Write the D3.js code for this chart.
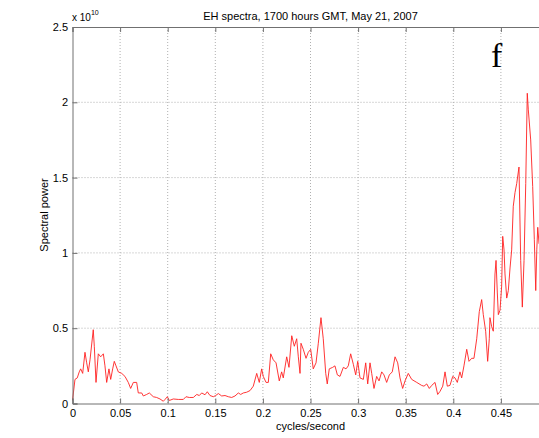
<!DOCTYPE html>
<html>
<head>
<meta charset="utf-8">
<script src="https://cdn.jsdelivr.net/npm/d3@7"></script>
<style>
  body { margin: 0; background: #fff; }
  svg { display: block; font-family: "Liberation Sans", Arial, sans-serif; }
</style>
</head>
<body>
<div id="chart"></div>
<script>
// frequency (cycles/second) and spectral power (x 10^10)
const freq = [
  0.0000, 0.0026, 0.0050, 0.0071, 0.0086, 0.0107, 0.0131, 0.0149, 0.0166, 0.0184,
  0.0218, 0.0229, 0.0247, 0.0271, 0.0296, 0.0324, 0.0341, 0.0359, 0.0383, 0.0401,
  0.0422, 0.0439, 0.0457, 0.0481, 0.0517, 0.0551, 0.0586, 0.0611, 0.0639, 0.0674,
  0.0691, 0.0727, 0.0744, 0.0779, 0.0807, 0.0849, 0.0884, 0.0919, 0.0954, 0.0972,
  0.0996, 0.1017, 0.1059, 0.1111, 0.1164, 0.1192, 0.1227, 0.1269, 0.1305, 0.1332,
  0.1357, 0.1392, 0.1416, 0.1444, 0.1479, 0.1504, 0.1532, 0.1567, 0.1602, 0.1637,
  0.1672, 0.1707, 0.1742, 0.1767, 0.1794, 0.1830, 0.1865, 0.1899, 0.1935, 0.1962,
  0.1987, 0.2004, 0.2033, 0.2057, 0.2082, 0.2109, 0.2138, 0.2172, 0.2197, 0.2214,
  0.2250, 0.2274, 0.2303, 0.2330, 0.2355, 0.2372, 0.2390, 0.2400, 0.2424, 0.2453,
  0.2477, 0.2502, 0.2529, 0.2558, 0.2582, 0.2610, 0.2634, 0.2660, 0.2676, 0.2697,
  0.2733, 0.2757, 0.2782, 0.2810, 0.2845, 0.2873, 0.2897, 0.2922, 0.2950, 0.2975,
  0.2996, 0.3020, 0.3055, 0.3080, 0.3101, 0.3125, 0.3143, 0.3167, 0.3195, 0.3220,
  0.3248, 0.3272, 0.3300, 0.3328, 0.3359, 0.3388, 0.3416, 0.3440, 0.3468, 0.3493,
  0.3527, 0.3563, 0.3616, 0.3668, 0.3692, 0.3721, 0.3748, 0.3773, 0.3808, 0.3836,
  0.3860, 0.3889, 0.3913, 0.3937, 0.3965, 0.3994, 0.4018, 0.4042, 0.4070, 0.4088,
  0.4112, 0.4141, 0.4165, 0.4193, 0.4217, 0.4246, 0.4273, 0.4298, 0.4315, 0.4340,
  0.4361, 0.4378, 0.4385, 0.4403, 0.4420, 0.4438, 0.4449, 0.4462, 0.4473, 0.4491,
  0.4508, 0.4519, 0.4533, 0.4543, 0.4561, 0.4578, 0.4596, 0.4613, 0.4630, 0.4648,
  0.4666, 0.4690, 0.4708, 0.4725, 0.4743, 0.4761, 0.4777, 0.4788, 0.4813, 0.4834,
  0.4851, 0.4866, 0.4877, 0.4887, 0.4901
];
const power = [
  0.02, 0.16, 0.17, 0.21, 0.23, 0.20, 0.34, 0.27, 0.21, 0.29,
  0.49, 0.38, 0.14, 0.33, 0.31, 0.33, 0.25, 0.14, 0.23, 0.16,
  0.23, 0.28, 0.25, 0.21, 0.20, 0.18, 0.14, 0.10, 0.14, 0.14,
  0.07, 0.07, 0.05, 0.06, 0.07, 0.045, 0.04, 0.03, 0.015, 0.027,
  0.045, 0.02, 0.03, 0.027, 0.027, 0.045, 0.04, 0.04, 0.06, 0.053,
  0.07, 0.058, 0.078, 0.053, 0.045, 0.053, 0.066, 0.05, 0.053, 0.045,
  0.04, 0.05, 0.07, 0.06, 0.07, 0.075, 0.086, 0.115, 0.20, 0.14,
  0.23, 0.18, 0.14, 0.14, 0.33, 0.29, 0.27, 0.15, 0.21, 0.17,
  0.31, 0.24, 0.45, 0.38, 0.43, 0.31, 0.20, 0.40, 0.36, 0.30,
  0.34, 0.36, 0.23, 0.27, 0.40, 0.57, 0.43, 0.20, 0.13, 0.23,
  0.24, 0.25, 0.19, 0.18, 0.24, 0.23, 0.25, 0.33, 0.26, 0.19,
  0.28, 0.17, 0.16, 0.27, 0.13, 0.27, 0.20, 0.10, 0.18, 0.15,
  0.21, 0.19, 0.14, 0.19, 0.21, 0.31, 0.27, 0.17, 0.10, 0.15,
  0.20, 0.16, 0.14, 0.12, 0.115, 0.13, 0.10, 0.12, 0.14, 0.06,
  0.08, 0.115, 0.21, 0.115, 0.12, 0.18, 0.17, 0.14, 0.21, 0.17,
  0.25, 0.36, 0.28, 0.30, 0.30, 0.43, 0.61, 0.69, 0.59, 0.48,
  0.28, 0.43, 0.57, 0.51, 0.48, 0.86, 0.95, 0.74, 0.59, 0.62,
  0.78, 1.11, 1.02, 0.86, 0.70, 0.75, 0.90, 1.02, 1.31, 1.40,
  1.46, 1.57, 0.95, 0.64, 0.95, 1.46, 2.06, 1.95, 1.75, 1.44,
  1.09, 0.75, 1.02, 1.17, 1.06
];
const xTicks = [0, 0.05, 0.1, 0.15, 0.2, 0.25, 0.3, 0.35, 0.4, 0.45];
const yTicks = [0, 0.5, 1, 1.5, 2, 2.5];

const margin = {top: 27, left: 72.5},
  width = 476, height = 376.5;

const svg = d3.select("#chart")
  .append("svg")
  .attr("width", 539)
  .attr("height", 438);

const g = svg.append("g")
  .attr("transform", `translate(${margin.left}, ${margin.top})`);

const x = d3.scaleLinear().domain([0, 0.5]).range([0, width]);
const y = d3.scaleLinear().domain([0, 2.5]).range([height, 0]);

// dotted grid
g.append("g")
  .selectAll("line")
  .data(xTicks.slice(1))
  .join("line")
    .attr("x1", d => x(d)).attr("x2", d => x(d))
    .attr("y1", 0).attr("y2", height)
    .attr("stroke", "#b0b0b0")
    .attr("stroke-dasharray", "1,2");
g.append("g")
  .selectAll("line")
  .data(yTicks.slice(1, -1))
  .join("line")
    .attr("x1", 0).attr("x2", width)
    .attr("y1", d => y(d)).attr("y2", d => y(d))
    .attr("stroke", "#b0b0b0")
    .attr("stroke-dasharray", "1,2");

// the spectrum
g.append("path")
  .datum(freq.map((f, i) => ({f: f, p: power[i]})))
  .attr("fill", "none")
  .attr("stroke", "#ff2020")
  .attr("stroke-width", 0.9)
  .attr("d", d3.line()
    .x(d => x(d.f))
    .y(d => y(d.p)));

// axes (MATLAB style, ticks inward)
const fmt = d => d === 0 ? "0" : String(d);
const xAxis = g.append("g")
  .attr("transform", `translate(0, ${height})`)
  .call(d3.axisBottom(x).tickValues(xTicks).tickSize(-5).tickPadding(5.5).tickFormat(fmt));
const xTop = g.append("g")
  .call(d3.axisTop(x).tickValues(xTicks).tickSize(-5).tickFormat(""));
const yAxis = g.append("g")
  .call(d3.axisLeft(y).tickValues(yTicks).tickSize(-5).tickPadding(4.5).tickFormat(fmt));
const yRight = g.append("g")
  .attr("transform", `translate(${width}, 0)`)
  .call(d3.axisRight(y).tickValues(yTicks).tickSize(-5).tickFormat(""));

[xAxis, xTop, yAxis, yRight].forEach(a => {
  a.select(".domain").attr("stroke", "#707070");
  a.selectAll(".tick line").attr("stroke", "#707070");
  a.selectAll("text")
    .attr("fill", "#000")
    .style("font-family", "'Liberation Sans', Arial, sans-serif")
    .style("font-size", "11px");
});

// title and labels
svg.append("text")
  .attr("x", margin.left + width / 2)
  .attr("y", 20)
  .attr("text-anchor", "middle")
  .style("font-size", "11px")
  .text("EH spectra, 1700 hours GMT, May 21, 2007");

svg.append("text")
  .attr("x", margin.left + width / 2)
  .attr("y", 430)
  .attr("text-anchor", "middle")
  .style("font-size", "11px")
  .text("cycles/second");

svg.append("text")
  .attr("transform", "translate(47.5, 215) rotate(-90)")
  .attr("text-anchor", "middle")
  .style("font-size", "11px")
  .text("Spectral power");

const expo = svg.append("text")
  .attr("x", 72)
  .attr("y", 21)
  .style("font-size", "10px");
expo.append("tspan").text("x 10");
expo.append("tspan").attr("dy", -6).style("font-size", "7px").text("10");

svg.append("text")
  .attr("x", 491)
  .attr("y", 67)
  .style("font-family", "'Liberation Serif', 'DejaVu Serif', serif")
  .style("font-size", "34px")
  .text("f");
</script>
</body>
</html>
